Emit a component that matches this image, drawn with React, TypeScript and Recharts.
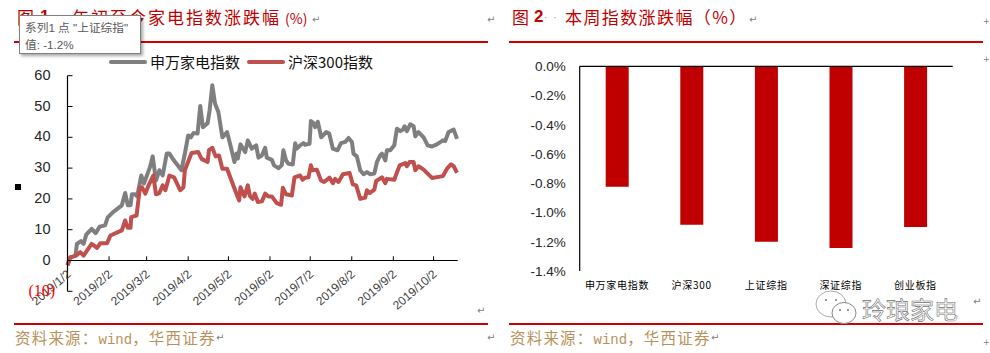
import * as React from 'react';
import {
    Bar,
    BarChart,
    Legend,
    Line,
    LineChart,
    ReferenceLine,
    XAxis,
    YAxis,
} from 'recharts';

// days since 2019/1/2
const applianceDays = [
    0, 2, 6, 7, 10, 12, 14, 18, 21, 24, 28, 30, 34, 40.5, 43, 45, 47, 48, 50.5, 52, 55, 57, 61.5, 63.5, 66, 68.5, 71, 74,
    76, 79, 85, 88, 90, 92, 94, 97, 99, 101, 104.5, 106, 108, 110, 112.5, 115.5, 119, 121.5, 124.5, 126, 127, 129, 132.5,
    134.5, 137.4, 140.7, 142.4, 144.9, 147.4, 148.6, 152.4, 154, 157.3, 159.8, 161, 163, 164.8, 168, 169.8, 171, 173.5,
    176, 177.2, 180.5, 181.5, 183.5, 184.7, 186.7, 189.2, 192.9, 195.2, 197.9, 201.4, 203.9, 207.1, 209.6, 212.1, 213.3,
    215.8, 218.3, 220.8, 223.3, 225.8, 228.8, 230.8, 233.2, 234.5, 237, 238.2, 240.7, 243.7, 245.7, 248.2, 250.2, 251.4,
    253.1, 255.6, 258.1, 259.4, 261.8, 265.6, 268.6, 271.8, 275.5, 280, 281.7, 284.2, 288, 290.5,
];
const applianceValues = [
    -1.5, 1, 1.6, 5.4, 6.3, 5.4, 8.4, 10.3, 8.9, 11, 11.4, 14, 15.7, 17.9, 21.9, 17.9, 17.9, 21.5, 21.5, 20.8, 27.6, 25,
    30.3, 33.8, 26, 29.3, 27.6, 34.7, 34.7, 32.7, 29.3, 35.8, 40.6, 40, 41.4, 41.2, 50.2, 43.3, 44.6, 48.8, 56.9, 51, 48.2,
    40, 41.7, 37.4, 32, 34.7, 33.1, 37.7, 35.2, 39, 36.3, 37.4, 33.4, 34.1, 36.6, 33.4, 32.7, 30.9, 30, 30.9, 35.8, 32.5,
    31.4, 31.2, 38.1, 36.3, 37.4, 38.1, 37.6, 37.9, 45.3, 44.6, 43.3, 45, 40, 41.7, 41.2, 36.3, 35.8, 38.1, 38.5, 39.8,
    38.5, 34.7, 33.8, 29.3, 28, 28.7, 28, 28.2, 32, 34.1, 34.7, 32.5, 35.8, 35.8, 37.4, 42.8, 42, 42.5, 43.6, 42, 44.2,
    43.6, 40.3, 41.7, 40, 37.4, 37, 37.7, 39, 38.8, 41.7, 42.5, 39.5,
];
const hs300Days = [
    0, 2, 6.5, 9.5, 12, 14.5, 18, 22, 24.5, 29.5, 32, 40.5, 43, 45, 47, 47.5, 51.5, 54, 55.5, 58, 60.5, 64, 66, 68.5, 71,
    73, 76, 79.5, 84, 86.5, 87.5, 92.5, 97.5, 100, 104.5, 105.5, 108, 110.5, 113, 115.5, 119, 125, 128, 129, 132, 134.5,
    136, 138, 139.7, 142, 145, 147.4, 149.9, 152.4, 156, 159.3, 160.6, 163, 167.3, 169.3, 173.5, 175.3, 177.2, 179.7,
    181.5, 182.7, 186, 189, 191.4, 195.4, 197.9, 199.6, 202.1, 205.4, 210.4, 212.8, 215.3, 218.3, 222, 223.3, 225.3, 228.8,
    230.2, 234.5, 237, 238.2, 243.7, 247.7, 251.9, 253.1, 255.1, 258.1, 259.4, 261.8, 265.6, 271.8, 280, 283, 286, 288,
    290.5,
];
const hs300Values = [
    -1.6, 1, 1.6, 2.7, 1.6, 3.2, 5.4, 4.1, 5.6, 5.6, 8.1, 9.8, 13, 10.6, 10.6, 14.1, 14.6, 23.6, 23.8, 21.7, 24.4, 27.6,
    21.5, 21.9, 24.4, 22.8, 27.6, 27, 22.8, 23.8, 29.3, 34.9, 35.2, 33, 32, 35.8, 36.6, 33.8, 34.1, 29.8, 29.8, 22.8, 19.5,
    23.8, 20.8, 24.4, 21, 20, 21.7, 19, 19.2, 21.7, 20.8, 20.8, 18.6, 18.1, 23.6, 21.5, 21.1, 27, 27.6, 26.2, 26.9, 27,
    30.9, 29.3, 29.5, 26, 25.5, 26.9, 25.1, 26.5, 25.5, 28, 28.4, 24.7, 24.4, 20, 20.4, 22.8, 21.9, 23, 25.8, 27, 25.1,
    26.5, 26.2, 30.9, 31.6, 30.6, 32, 32, 29.3, 30.6, 29.5, 26.8, 27.4, 29.8, 31.2, 30.6, 28.5,
];
const dateTicks = [0, 31, 59, 90, 120, 151, 181, 212, 243, 273];
const dateLabels = [
    '2019/1/2', '2019/2/2', '2019/3/2', '2019/4/2', '2019/5/2',
    '2019/6/2', '2019/7/2', '2019/8/2', '2019/9/2', '2019/10/2',
];
const lineTicks = [-10, 0, 10, 20, 30, 40, 50, 60];

const indexNames = ['申万家电指数', '沪深300', '上证综指', '深证综指', '创业板指'];
const weeklyChange = [-0.823, -1.083, -1.2, -1.242, -1.099];
const barTicks = [0, -0.2, -0.4, -0.6, -0.8, -1.0, -1.2, -1.4];

const applianceRows = applianceDays.map((day, i) => ({ day, value: applianceValues[i] }));
const hs300Rows = hs300Days.map((day, i) => ({ day, value: hs300Values[i] }));
const barRows = indexNames.map((name, i) => ({ name, change: weeklyChange[i] }));

const SANS = '"Liberation Sans", Arial, sans-serif';
const CJK = '"Noto Sans CJK SC", sans-serif';
const RED = '#c00000';
const ZERO_OFFSET = 31; // px between the plot bottom (-10) and the zero line

function DateTick({ x, y, index }: any) {
    const top = y - ZERO_OFFSET;
    return (
        <g>
            {index > 0 && <line x1={x} x2={x} y1={top} y2={top - 4} stroke="#000" />}
            <text
                x={x + 4}
                y={top + 15}
                textAnchor="end"
                fontFamily={SANS}
                fontSize={12}
                fill="#404040"
                transform={`rotate(-41 ${x + 4} ${top + 15})`}
            >
                {dateLabels[index]}
            </text>
        </g>
    );
}

function LineValueTick({ x, y, payload }: any) {
    const isNegative = payload.value < 0;
    return (
        <g>
            <line x1={x} x2={x + 5} y1={y} y2={y} stroke="#000" />
            {isNegative ? (
                <text x={x - 39} y={y + 5} fontFamily='"Liberation Serif", serif' fontSize={16} fill="#ff0000">
                    (10)
                </text>
            ) : (
                <text x={x - 17} y={y + 4} textAnchor="end" fontFamily={SANS} fontSize={14.5} fill="#262626">
                    {payload.value}
                </text>
            )}
        </g>
    );
}

function LineLegend({ payload }: any) {
    return (
        <div style={{ display: 'flex', fontFamily: CJK, fontSize: 15, color: '#111', lineHeight: '20px' }}>
            {(payload || []).map((item: any) => (
                <div key={item.value} style={{ display: 'flex', alignItems: 'center', marginRight: 7 }}>
                    <span style={{ width: 38, height: 4, borderRadius: 2, background: item.color, marginRight: 3 }} />
                    <span>{item.value}</span>
                </div>
            ))}
        </div>
    );
}

function NameTick({ x, y, payload }: any) {
    return (
        <text
            x={x}
            y={y + 18}
            textAnchor="middle"
            fontFamily={CJK}
            fontSize={10}
            letterSpacing={0.7}
            fill="#000"
        >
            {payload.value}
        </text>
    );
}

function Rule({ left, top }: { left: number; top: number }) {
    return <div style={{ position: 'absolute', left, top, width: 474, height: 2, background: '#cc0000' }} />;
}

function Source({ left }: { left: number }) {
    return (
        <div style={{ position: 'absolute', left, top: 326, color: '#b8925a', fontFamily: CJK, fontSize: 15.5, letterSpacing: 1.2, whiteSpace: 'nowrap' }}>
            资料来源：
            <span style={{ fontFamily: '"Liberation Mono", monospace', fontSize: 14, letterSpacing: 0 }}>wind</span>
            ，华西证券
        </div>
    );
}

function Title({ left, numLeft, textLeft, num, text, pitch, suffix }: { left: number; numLeft: number; textLeft: number; num: string; text: string; pitch: number; suffix?: string }) {
    const base: React.CSSProperties = { position: 'absolute', top: 4, color: RED, fontFamily: CJK, fontSize: 17, whiteSpace: 'nowrap' };
    return (
        <>
            <span style={{ ...base, left }}>图</span>
            <b style={{ ...base, left: numLeft, fontFamily: SANS, top: 7 }}>{num}</b>
            <span style={{ ...base, left: textLeft, letterSpacing: pitch - 17 }}>
                {text}
                {suffix && <span style={{ fontSize: 14, letterSpacing: 0, marginLeft: 4 }}>{suffix}</span>}
            </span>
        </>
    );
}

function Mark({ left, top, glyph = '↵' }: { left: number; top: number; glyph?: string }) {
    return (
        <span style={{ position: 'absolute', left, top, fontFamily: '"DejaVu Sans", sans-serif', fontSize: glyph === '+' ? 8 : 10, lineHeight: '10px', color: '#808080' }}>
            {glyph}
        </span>
    );
}

export default function App() {
    return (
        <div style={{ position: 'absolute', left: 0, top: 0, width: 990, height: 353, background: '#fff', overflow: 'hidden' }}>
            <Title left={17} numLeft={40} textLeft={72} num="1" text="年初至今家电指数涨跌幅" suffix="(%)" pitch={19} />
            <Title left={512} numLeft={534} textLeft={565} num="2" text="本周指数涨跌幅（%）" pitch={18.4} />
            <span style={{ position: 'absolute', left: 544, top: 12, fontFamily: SANS, fontSize: 10, color: '#999', letterSpacing: 6 }}>··</span>
            <Rule left={14} top={41} />
            <Rule left={509} top={41} />
            <Rule left={14} top={323} />
            <Rule left={509} top={323} />
            <Source left={15} />
            <Source left={510} />

            <div style={{ position: 'absolute', left: 0, top: 0 }}>
                <LineChart width={490} height={353} margin={{ top: 75.7, right: 32.3, bottom: 60.7, left: 27.5 }}>
                    <XAxis
                        type="number"
                        dataKey="day"
                        domain={[0, 291]}
                        ticks={dateTicks}
                        interval={0}
                        height={1}
                        axisLine={false}
                        tickLine={false}
                        tickSize={0}
                        tickMargin={0}
                        tick={(props: any) => <DateTick {...props} />}
                        allowDuplicatedCategory={false}
                    />
                    <YAxis
                        type="number"
                        width={40}
                        domain={[-10, 60]}
                        ticks={lineTicks}
                        interval={0}
                        axisLine={{ stroke: '#000', strokeWidth: 1.2 }}
                        tickLine={false}
                        tickSize={0}
                        tickMargin={0}
                        tick={(props: any) => <LineValueTick {...props} />}
                    />
                    <ReferenceLine y={0} stroke="#000" strokeWidth={1.2} />
                    <Legend
                        verticalAlign="middle"
                        itemSorter={null}
                        content={(props: any) => <LineLegend {...props} />}
                        wrapperStyle={{ left: 109, top: 52, width: 300, bottom: 'auto' }}
                    />
                    <Line
                        data={applianceRows}
                        dataKey="value"
                        name="申万家电指数"
                        stroke="#7f7f7f"
                        strokeWidth={4}
                        strokeLinejoin="round"
                        dot={false}
                        isAnimationActive={false}
                    />
                    <Line
                        data={hs300Rows}
                        dataKey="value"
                        name="沪深300指数"
                        stroke="#c0504d"
                        strokeWidth={4}
                        strokeLinejoin="round"
                        dot={false}
                        isAnimationActive={false}
                    />
                </LineChart>
            </div>

            <div style={{ position: 'absolute', left: 495, top: 0 }}>
                <BarChart
                    width={490}
                    height={353}
                    data={barRows}
                    margin={{ top: 66.3, right: 32.3, bottom: 81, left: 44.7 }}
                >
                    <XAxis
                        dataKey="name"
                        height={1}
                        interval={0}
                        axisLine={false}
                        tickLine={false}
                        tickSize={0}
                        tickMargin={0}
                        tick={(props: any) => <NameTick {...props} />}
                    />
                    <YAxis
                        width={40}
                        domain={[-1.4, 0]}
                        ticks={barTicks}
                        interval={0}
                        axisLine={{ stroke: '#000', strokeWidth: 1.2 }}
                        tickLine={false}
                        tickSize={6}
                        tickMargin={8}
                        tick={{ fontFamily: SANS, fontSize: 13.5, fill: '#262626' }}
                        tickFormatter={(v: number) => `${v.toFixed(1)}%`}
                    />
                    <Bar dataKey="change" fill={RED} barSize={23} isAnimationActive={false} />
                    <ReferenceLine y={0} stroke="#000" strokeWidth={1.2} />
                </BarChart>
            </div>

            {/* tooltip left over in the source picture */}
            <div
                style={{
                    position: 'absolute',
                    left: 19,
                    top: 15,
                    width: 115,
                    height: 34,
                    background: '#fff',
                    border: '1px solid #808080',
                    boxShadow: '2px 2px 3px rgba(0,0,0,0.35)',
                    fontSize: 11.7,
                    lineHeight: '17px',
                    color: '#595959',
                    paddingLeft: 5,
                    paddingTop: 3,
                    boxSizing: 'content-box',
                    whiteSpace: 'nowrap',
                    fontFamily: `${SANS}, ${CJK}`,
                }}
            >
                <div>系列1 点 "上证综指"</div>
                <div>值: -1.2%</div>
            </div>

            <div style={{ position: 'absolute', left: 15, top: 184, width: 6, height: 6, background: '#000' }} />

            {/* watermark */}
            <svg style={{ position: 'absolute', left: 814, top: 290 }} width={48} height={36}>
                <ellipse cx={17} cy={14} rx={15} ry={13} fill="#fff" stroke="#aaa" />
                <ellipse cx={30} cy={23} rx={12} ry={10.5} fill="#fff" stroke="#888" />
                <circle cx={12} cy={10} r={1} fill="#777" />
                <circle cx={22} cy={10} r={1} fill="#777" />
                <circle cx={26} cy={20} r={1} fill="#777" />
                <circle cx={34} cy={20} r={1} fill="#777" />
            </svg>
            <div style={{ position: 'absolute', left: 862, top: 291, fontFamily: CJK, fontSize: 24, color: '#fff', WebkitTextStroke: '0.6px #707070', whiteSpace: 'nowrap' }}>
                玲琅家电
            </div>

            <Mark left={312} top={15} />
            <Mark left={487} top={15} />
            <Mark left={477} top={306} />
            <Mark left={487} top={333} />
            <Mark left={216} top={333} />
            <Mark left={749} top={15} />
            <Mark left={973} top={297} />
            <Mark left={711} top={333} />
            <Mark left={983} top={17} glyph="+" />
            <Mark left={983} top={55} glyph="+" />
            <Mark left={983} top={338} glyph="+" />
        </div>
    );
}
